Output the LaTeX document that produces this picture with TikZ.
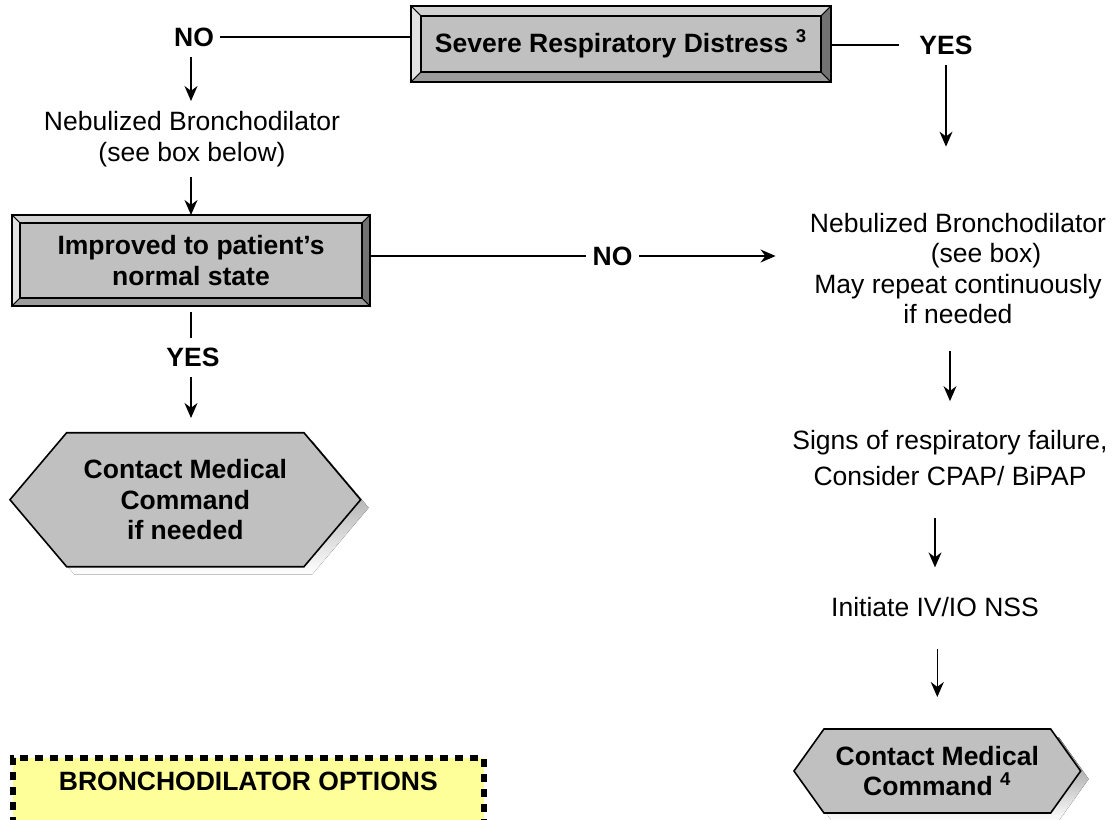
\documentclass[tikz,border=0pt]{standalone}
\usepackage{fontspec}
\setmainfont{Liberation Sans}
\usetikzlibrary{calc, arrows.meta, backgrounds}

\definecolor{face}{HTML}{C0C0C0}
\definecolor{bevlight}{HTML}{E2E2E2}
\definecolor{bevtop}{HTML}{D2D2D2}
\definecolor{bevbottom}{HTML}{9C9C9C}
\definecolor{bevdark}{HTML}{727272}
\definecolor{shade}{HTML}{777777}
\definecolor{optfill}{HTML}{FFFF99}

\newcommand{\flowfont}{\fontsize{13.25}{15.25}\selectfont}

% raised frame round a box node (outer sep = bevel width)
\newcommand{\bevelframe}[2]{%
  \begin{pgfonlayer}{background}
  \filldraw[fill=bevtop, line width=0.5pt] (#1.north west) -- (#1.north east) -- ([shift={(-#2,-#2)}]#1.north east) -- ([shift={(#2,-#2)}]#1.north west) -- cycle;
  \filldraw[fill=bevlight, line width=0.5pt] (#1.north west) -- (#1.south west) -- ([shift={(#2,#2)}]#1.south west) -- ([shift={(#2,-#2)}]#1.north west) -- cycle;
  \filldraw[fill=bevbottom, line width=0.5pt] (#1.south west) -- (#1.south east) -- ([shift={(-#2,#2)}]#1.south east) -- ([shift={(#2,#2)}]#1.south west) -- cycle;
  \filldraw[fill=bevdark, line width=0.5pt] (#1.north east) -- (#1.south east) -- ([shift={(-#2,#2)}]#1.south east) -- ([shift={(-#2,-#2)}]#1.north east) -- cycle;
  \draw[line width=1pt] (#1.north west) rectangle (#1.south east);
  \end{pgfonlayer}}

% hexagon with shadow round a node
\newcommand{\hexframe}[2]{%
  \begin{pgfonlayer}{background}
  \fill[shade] ([shift={(4pt,-4pt)}]#1.west) -- ([shift={(4pt+#2,-4pt)}]#1.north west) -- ([shift={(4pt-#2,-4pt)}]#1.north east) -- ([shift={(4pt,-4pt)}]#1.east) -- ([shift={(4pt-#2,-4pt)}]#1.south east) -- ([shift={(4pt+#2,-4pt)}]#1.south west) -- cycle;
  \filldraw[fill=face, line width=0.8pt] (#1.west) -- ([xshift=#2]#1.north west) -- ([xshift=-#2]#1.north east) -- (#1.east) -- ([xshift=-#2]#1.south east) -- ([xshift=#2]#1.south west) -- cycle;
  \end{pgfonlayer}}

\begin{document}
\begin{tikzpicture}[x=0.5pt, y=-0.5pt, every node/.style={align=center, inner xsep=3pt, inner ysep=5pt, font=\flowfont}, lbl/.style={font=\flowfont\bfseries}, facebox/.style={rectangle, draw, line width=1.2pt, fill=face, font=\flowfont\bfseries}, hexnode/.style={rectangle, outer sep=0pt, font=\flowfont\bfseries}, dotframe/.style={line width=3pt, dash pattern=on 4pt off 3.5pt}, >={Stealth[length=7.5pt, width=6.5pt]}]
        \useasboundingbox (0,0) rectangle (1115,820);

        % Nodes
        \node[facebox, minimum width=200pt, minimum height=28pt, outer sep=5pt] (sev) at (621,44) {Severe Respiratory Distress \textsuperscript{3}};
        \node[lbl] (no1) at (194,37) {NO};
        \node[lbl] (yes1) at (946,45) {YES};
        \node (neb1) at (192,139) {Nebulized Bronchodilator\\(see box below)};
        \node[facebox, minimum width=171pt, minimum height=37.5pt, outer sep=4pt] (impr) at (191,260.5) {Improved to patient’s\\normal state};
        \node[lbl] (no2) at (612.5,256) {NO};
        \node[lbl] (yes2) at (193,357.5) {YES};
        \node[hexnode, minimum width=175.35pt, minimum height=67pt] (cmd1) at (185.3,499.7) {Contact Medical\\Command\\if needed};
        \node (neb2) at (958,268.5) {Nebulized Bronchodilator\\\hspace*{28pt}(see box)\\May repeat continuously\\if needed};
        \node (signs) at (950,458) {Signs of respiratory failure,\\[2.5pt]Consider CPAP/ BiPAP};
        \node (ivio) at (935,607) {Initiate IV/IO NSS};
        \node[hexnode, minimum width=143.35pt, minimum height=42pt] (cmd2) at (937.3,771) {Contact Medical\\Command \textsuperscript{4}};
        \node[lbl, anchor=north, minimum width=235.35pt, inner ysep=7.25pt, outer sep=0pt] (opts) at (248.3,757.5) {BRONCHODILATOR OPTIONS};

        % Frames
        \bevelframe{sev}{5pt}
        \bevelframe{impr}{4pt}
        \hexframe{cmd1}{28.35pt}
        \hexframe{cmd2}{15pt}
        \begin{pgfonlayer}{background}
        \fill[optfill] (opts.north west) rectangle ([yshift=-40pt]opts.south east);
        \end{pgfonlayer}
        \draw[dotframe] ([yshift=-40pt]opts.south west) -- (opts.north west) -- (opts.north east) -- ([yshift=-40pt]opts.south east);

        % Left branch
        \draw[thick] (no1.east) -- (no1.east -| sev.west);
        \draw[->, thick] (no1.south -| impr.north) -- (neb1.north -| impr.north);
        \draw[->, thick] (neb1.south -| impr.north) -- (impr.north);
        \draw[thick, shorten <=3pt] (impr.south) -- (impr.south |- yes2.north);
        \draw[->, thick, shorten >=7.35pt] (yes2.south -| impr.south) -- (cmd1.north -| impr.south);

        % Right branch
        \draw[thick, shorten >=7pt] (sev.east |- yes1.west) -- (yes1.west);
        \draw[->, thick, shorten >=28pt] (yes1.south) -- (yes1.south |- neb2.north);
        \draw[thick] (no2.west -| impr.east) -- (no2.west);
        \draw[->, thick, shorten >=14pt] (no2.east) -- (no2.east -| neb2.west);
        \foreach \i/\j/\a/\b in {neb2/signs/8.5pt/9.5pt, signs/ivio/11pt/9.75pt, ivio/cmd2/11pt/16pt}
        \draw[->, thick, shorten <=\a, shorten >=\b] (\i.south -| \j.north) -- (\j.north);

        \end{tikzpicture}
\end{document}
